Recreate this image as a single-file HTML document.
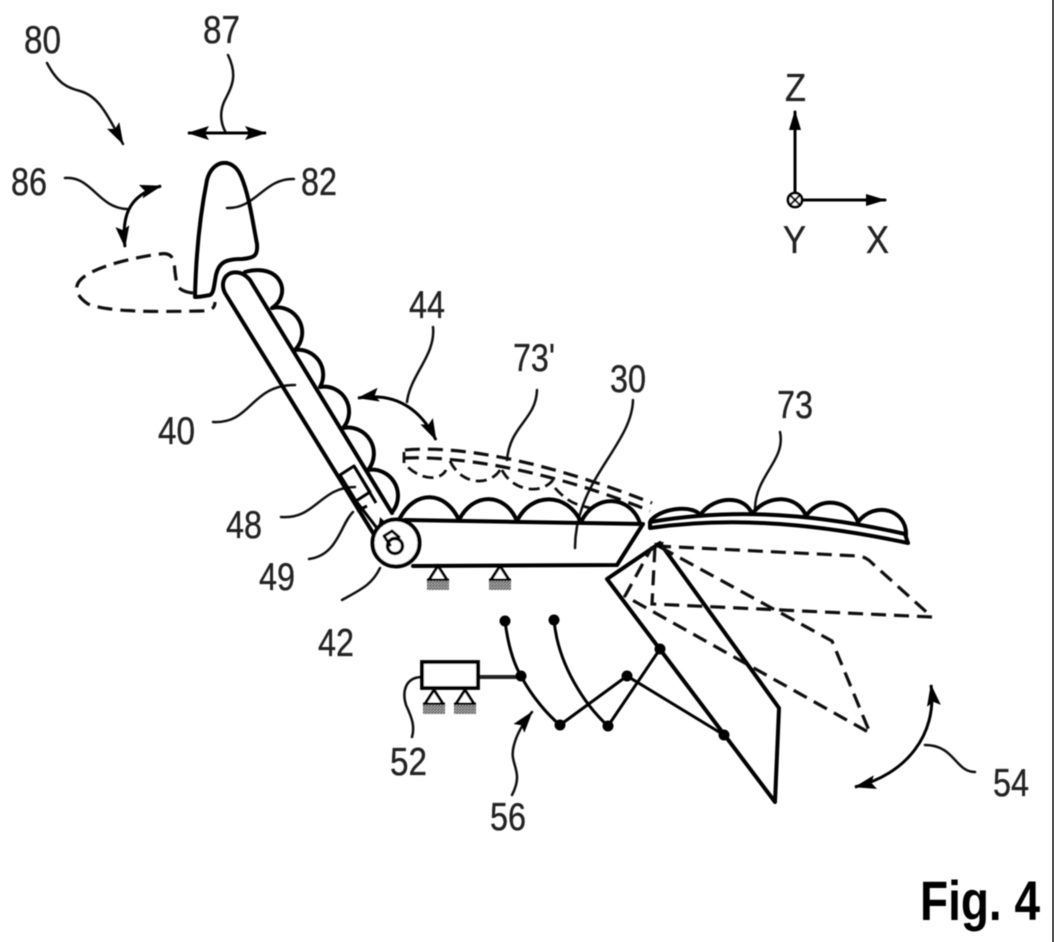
<!DOCTYPE html>
<html><head><meta charset="utf-8"><style>
html,body{margin:0;padding:0;background:#fff;width:1054px;height:942px;overflow:hidden}
svg{display:block}
text{font-family:"Liberation Sans",sans-serif;fill:#222;stroke:#222;stroke-width:.35;font-size:39px}
.s{fill:none;stroke:#000;stroke-width:4;stroke-linejoin:round;stroke-linecap:round}
.t{fill:none;stroke:#111;stroke-width:2.5;stroke-linecap:round}
.d{fill:none;stroke:#111;stroke-width:3.2;stroke-dasharray:15 8}
.m{fill:none;stroke:#000;stroke-width:3}
</style></head><body>
<svg width="1054" height="942" viewBox="0 0 1054 942" xmlns="http://www.w3.org/2000/svg">
<defs>
<filter id="b" x="-2%" y="-2%" width="104%" height="104%"><feGaussianBlur stdDeviation="0.55"/></filter>
<marker id="a" viewBox="0 0 22 14" refX="21" refY="7" markerWidth="22" markerHeight="14" markerUnits="userSpaceOnUse" orient="auto-start-reverse"><path d="M0 0L22 7L0 14L4 7Z" fill="#000"/></marker>
<pattern id="p" width="3" height="3" patternUnits="userSpaceOnUse"><rect width="3" height="3" fill="#aaa"/><path d="M0 3L3 0" stroke="#444" stroke-width="1"/></pattern>
<g id="tri"><path d="M0 0L-9 14H9Z" fill="#fff" stroke="#000" stroke-width="2.8"/><path d="M-11 14H11" stroke="#000" stroke-width="2.8"/><rect x="-11" y="15" width="22" height="9" fill="url(#p)"/></g>
</defs>
<g filter="url(#b)">
<!-- leaders -->
<path class="t" d="M47 63C58 84 68 88 80 91C98 96 106 112 123 144" marker-end="url(#a)"/>
<path class="t" d="M228 55C238 76 232 86 224 102C219 114 221 124 226 133"/>
<path class="m" d="M188 133H266" marker-start="url(#a)" marker-end="url(#a)"/>
<path class="t" d="M65 178C92 176 98 208 127 209"/>
<path class="m" d="M161 186C136 193 120 208 125 247" marker-start="url(#a)" marker-end="url(#a)"/>
<path class="t" d="M294 179C264 178 256 209 227 208"/>
<path class="t" d="M213 422C252 424 250 385 295 385"/>
<path class="t" d="M433 327C436 355 410 375 407 402"/>
<path class="m" d="M358 398C395 392 420 408 436 440" marker-start="url(#a)" marker-end="url(#a)"/>
<path class="t" d="M537 390C536 420 510 425 507 460"/>
<path class="t" d="M633 400C632 445 575 480 575 548"/>
<path class="t" d="M780 432C786 460 756 475 755 508"/>
<path class="t" d="M281 517C315 520 320 487 355 487"/>
<path class="t" d="M309 559C338 555 340 525 353 512"/>
<path class="t" d="M342 600C360 590 372 585 380 568"/>
<path class="t" d="M421 677C405 678 402 692 406 705C412 718 415 726 412 737"/>
<path class="t" d="M512 795C525 770 508 765 514 745C517 733 524 722 532 712" marker-end="url(#a)"/>
<path class="t" d="M975 772C955 772 955 745 925 745"/>
<path class="m" d="M931 685C938 735 905 775 855 787" marker-start="url(#a)" marker-end="url(#a)"/>
<!-- head -->
<path class="s" d="M195 297C196 250 201 210 207 180C212 160 232 156 241 176C249 195 252 218 257 244C258 256 254 258 242 259C226 259 219 262 216 275C214 285 214 293 210 295C205 296 200 297 195 297Z"/>
<path class="d" d="M193 293C176 291 177 285 175 272C174 258 172 252 160 254C130 258 100 266 85 276C72 285 75 295 88 304C110 312 150 312 200 311C213 311 215 307 215 302"/>
<!-- backrest -->
<path class="s" d="M373 533L225 293C221 285 223 276 231 273C239 271 245 274 250 280L392 513"/>
<path class="s" d="M245 272C282 262 292 295 272 308A25 25 0 0 1 295 350A25 25 0 0 1 320 387A25 25 0 0 1 343 428A26 26 0 0 1 368 470A26 26 0 0 1 393 511"/>
<path class="s" style="stroke-width:3" d="M340 475L354 466L370 492L356 501Z"/>
<path class="m" d="M354 466L376 503M356 501L380 532M357 511L367 506"/>
<path d="M380 517L389 526L378 530Z" fill="#000"/>
<circle cx="396" cy="543" r="23.5" fill="#fff" stroke="#000" stroke-width="4"/>
<circle cx="395" cy="546" r="7.5" fill="#fff" stroke="#000" stroke-width="3.4"/>
<path class="s" style="stroke-width:3" d="M392 531L384 536L390 545M392 531L399 537"/>
<!-- seat -->
<path class="s" d="M405 520L643 524L617 565L413 566"/>
<path class="s" d="M400 518C415 490 445 490 459 520C473 492 505 492 517 521C531 492 567 492 581 522C595 493 630 495 640 523"/>
<use href="#tri" x="438" y="566"/><use href="#tri" x="500" y="566"/>
<!-- 73' dashed -->
<path class="d" d="M405 450C450 446 530 455 652 503"/>
<path class="d" d="M404 458C450 456 540 466 650 511"/>
<path class="d" style="stroke-width:2.8;stroke-dasharray:11 6" d="M404 452V463C418 480 440 482 446 470M450 461C462 486 490 486 500 470M502 470C512 490 540 496 553 480M555 488C570 505 580 505 590 508"/>
<!-- 73 -->
<path class="s" d="M650 522C720 510 800 510 905 534L908 543C800 520 720 518 650 528Z"/>
<path class="s" d="M651 520C665 506 695 506 700 515C715 495 745 495 752 514C768 493 798 495 806 516C820 495 850 500 858 522C875 500 907 510 906 535"/>
<!-- flap -->
<path class="s" d="M660 543L607 579L775 802L779 708Z"/>
<path class="d" d="M656 546L858 556C866 557 869 560 873 564L932 617L652 604L655 546"/>
<path class="d" d="M660 547L832 641L870 733L625 596L652 547"/>
<path d="M654 543L664 542L660 549Z" fill="#000"/>
<!-- linkage -->
<path class="s" style="stroke-width:3" d="M505 621C508 645 514 664 521 676C532 697 548 715 560 725L627 676L724 735M554 620C558 665 585 705 608 726L660 649"/>
<path d="M478 677H521" stroke="#222" stroke-width="4" fill="none"/>
<g fill="#000"><circle cx="505" cy="621" r="5.5"/><circle cx="554" cy="620" r="5.5"/><circle cx="521" cy="676" r="5.5"/><circle cx="560" cy="725" r="5.5"/><circle cx="608" cy="726" r="5.5"/><circle cx="627" cy="676" r="5.5"/><circle cx="660" cy="649" r="5.5"/><circle cx="724" cy="735" r="5.5"/></g>
<rect x="422" y="662" width="56" height="26" fill="#fff" stroke="#000" stroke-width="3.8"/>
<use href="#tri" x="434" y="690"/><use href="#tri" x="465" y="690"/>
<!-- axes -->
<path class="s" style="stroke-width:3" d="M795 193V112M802 200H885"/>
<path d="M795 110L789 130H801Z" fill="#000"/><path d="M886 200L866 194V206Z" fill="#000"/>
<circle cx="795" cy="200" r="7" fill="#fff" stroke="#000" stroke-width="2.8"/>
<path d="M790 195L800 205M800 195L790 205" stroke="#000" stroke-width="2.2"/>
<!-- labels -->
<text x="24" y="53" textLength="37" lengthAdjust="spacingAndGlyphs">80</text>
<text x="203" y="43" textLength="37" lengthAdjust="spacingAndGlyphs">87</text>
<text x="11" y="195" textLength="36" lengthAdjust="spacingAndGlyphs">86</text>
<text x="301" y="195" textLength="36" lengthAdjust="spacingAndGlyphs">82</text>
<text x="409" y="318" textLength="36" lengthAdjust="spacingAndGlyphs">44</text>
<text x="513" y="371" textLength="42" lengthAdjust="spacingAndGlyphs">73'</text>
<text x="610" y="392" textLength="36" lengthAdjust="spacingAndGlyphs">30</text>
<text x="777" y="418" textLength="36" lengthAdjust="spacingAndGlyphs">73</text>
<text x="158" y="444" textLength="37" lengthAdjust="spacingAndGlyphs">40</text>
<text x="226" y="538" textLength="36" lengthAdjust="spacingAndGlyphs">48</text>
<text x="259" y="590" textLength="36" lengthAdjust="spacingAndGlyphs">49</text>
<text x="318" y="656" textLength="36" lengthAdjust="spacingAndGlyphs">42</text>
<text x="390" y="775" textLength="37" lengthAdjust="spacingAndGlyphs">52</text>
<text x="490" y="830" textLength="36" lengthAdjust="spacingAndGlyphs">56</text>
<text x="993" y="796" textLength="36" lengthAdjust="spacingAndGlyphs">54</text>
<text x="785" y="101" textLength="21" lengthAdjust="spacingAndGlyphs">Z</text>
<text x="783" y="253" textLength="23" lengthAdjust="spacingAndGlyphs">Y</text>
<text x="866" y="253" textLength="23" lengthAdjust="spacingAndGlyphs">X</text>
<text x="920" y="920" textLength="120" lengthAdjust="spacingAndGlyphs" style="font-weight:bold;font-size:56px;fill:#000;stroke:none">Fig. 4</text>
</g>
<rect x="1052" y="0" width="2" height="942" fill="#555"/>
</svg>
</body></html>
